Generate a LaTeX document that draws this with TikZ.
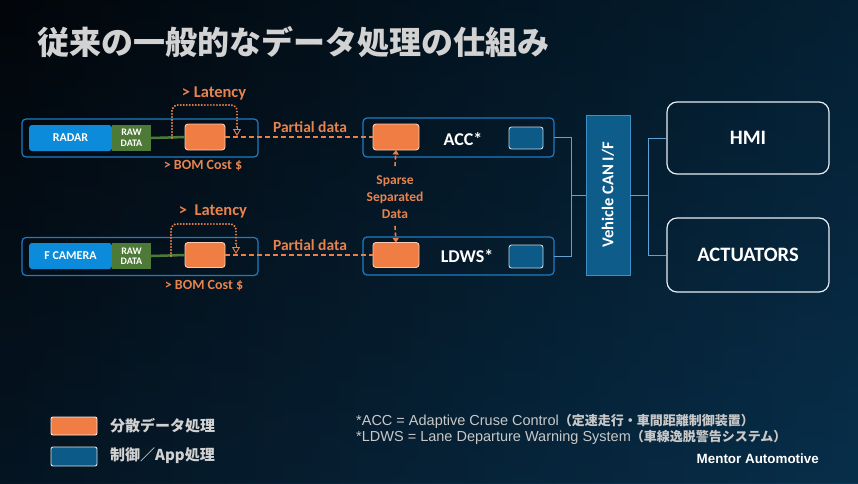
\documentclass[tikz,border=0pt]{standalone}
\usepackage{fontspec}
\setmainfont{Carlito}
\newfontfamily\jp{Noto Sans CJK JP}
\newfontfamily\arial{Liberation Sans}
\usetikzlibrary{arrows.meta}
\definecolor{bgl}{HTML}{050B13}
\definecolor{bgr}{HTML}{0A3A5C}
\definecolor{titlegray}{HTML}{D2D2D2}
\definecolor{orng}{HTML}{F07D44}
\definecolor{orngtxt}{HTML}{E8834E}
\definecolor{radarblue}{HTML}{0B8BD9}
\definecolor{rawgreen}{HTML}{4E7A37}
\definecolor{appblue}{HTML}{0B5A87}
\definecolor{grpblue}{HTML}{1E7CC4}
\definecolor{canfill}{HTML}{0E5C8A}
\definecolor{canedge}{HTML}{3D8FC4}
\definecolor{conn}{HTML}{5FA3D6}
\definecolor{boxedge}{HTML}{E8EEF4}
\definecolor{footgray}{HTML}{C8C8C8}
\tikzset{
  grp/.style={draw=grpblue, line width=1.2pt, rounded corners=4pt, inner sep=0pt, outer sep=0pt},
  orbox/.style={fill=orng, draw=orng!40!white, line width=0.9pt, rounded corners=3pt, inner sep=0pt, outer sep=0pt},
  appbox/.style={fill=appblue, draw=boxedge!85!appblue, line width=0.9pt, rounded corners=2.5pt, inner sep=0pt, outer sep=0pt},
  olabel/.style={text=orngtxt, font=\bfseries\fontsize{15.5}{17}\selectfont},
  latlabel/.style={text=orngtxt, font=\bfseries\fontsize{16.5}{18}\selectfont},
  bomlabel/.style={text=orngtxt, font=\bfseries\fontsize{14}{16}\selectfont},
  wlabel/.style={text=white, font=\bfseries\fontsize{18}{20}\selectfont},
  latpath/.style={draw=orngtxt, line width=2.2pt, line cap=round, dash pattern=on 0.01pt off 3pt, rounded corners=6pt},
  dashline/.style={draw=orng, line width=1.5pt, dash pattern=on 5pt off 3pt},
  conline/.style={draw=conn, line width=0.9pt},
  bigbox/.style={draw=boxedge, line width=1.2pt, rounded corners=10pt, minimum width=162pt, inner sep=0pt, text=white, font=\bfseries\fontsize{20.5}{22}\selectfont},
  sensor/.style={fill=radarblue, rounded corners=3pt, minimum width=83pt, minimum height=26pt, inner sep=0pt, text=white, font=\bfseries\fontsize{12}{14}\selectfont},
  rawbox/.style={fill=rawgreen, minimum width=39pt, minimum height=26pt, inner sep=0pt, text=white, align=center, font=\bfseries\fontsize{10}{10.5}\selectfont},
}
\begin{document}
\begin{tikzpicture}[x=1pt,y=-1pt]
\fill[left color=bgl, right color=bgr] (0,0) rectangle (858,483);
\fill[top color=black, bottom color=bgr, opacity=0.25] (0,0) rectangle (858,483);
\useasboundingbox (0,0) rectangle (858,483);
% faint arcs
\foreach \r in {120,140,...,300}{
  \draw[white, opacity=0.035, line width=0.5pt] (-60,480) ++(80:\r) arc[start angle=80, end angle=10, radius=\r];
}
% title
\node[anchor=west, text=titlegray, font=\jp\bfseries\fontsize{32}{34}\selectfont, inner sep=0pt] (title) at (37,42) {従来の一般的なデータ処理の仕組み};

% ---------- RADAR row ----------
\node[grp, minimum width=236pt, minimum height=38pt] (g1) at (140,138) {};
\node[sensor] (radar) at (70.5,138) {RADAR};
\node[rawbox] (raw1) at (131.5,138) {RAW\\DATA};
\node[orbox, minimum width=40pt, minimum height=26pt] (o1) at (205,137) {};
\draw[draw=rawgreen, line width=2.5pt] (raw1.east) -- (o1.west);
\coordinate (l1s) at (172,138);
\coordinate (l1e) at (237,136);
\draw[latpath] (l1s) -- (172,105) -- (237,105) -- (237,128);
\draw[draw=orngtxt, line width=0.9pt, -{Triangle[open, length=7pt, width=8pt]}] (237,127) -- (l1e);
\node[latlabel] (lat1) at (214,93) {> Latency};
\node[bomlabel] (bom1) at (203,166) {> BOM Cost \$};
\node[olabel] (pd1) at (310,127) {Partial data};

% ---------- CAMERA row ----------
\node[grp, minimum width=236pt, minimum height=38pt] (g2) at (140,256.5) {};
\node[sensor] (cam) at (70.5,256) {F CAMERA};
\node[rawbox] (raw2) at (131.5,256) {RAW\\DATA};
\node[orbox, minimum width=40pt, minimum height=25pt] (o2) at (205,255) {};
\draw[draw=rawgreen, line width=2.5pt] (raw2.east) -- (o2.west);
\coordinate (l2s) at (171,256);
\coordinate (l2e) at (236,254);
\draw[latpath] (l2s) -- (171,224) -- (236,224) -- (236,246);
\draw[draw=orngtxt, line width=0.9pt, -{Triangle[open, length=7pt, width=8pt]}] (236,245) -- (l2e);
\node[latlabel] (lat2) at (213,211) {>\ \ Latency};
\node[bomlabel] (bom2) at (204,286) {> BOM Cost \$};
\node[olabel] (pd2) at (310,245) {Partial data};

% ---------- ACC / LDWS ----------
\node[grp, minimum width=191pt, minimum height=39pt] (gacc) at (458.5,137.5) {};
\node[orbox, minimum width=46pt, minimum height=26pt] (oacc) at (396,137) {};
\node[wlabel] (acct) at (463,139) {ACC*};
\node[appbox, minimum width=34pt, minimum height=22pt] (aacc) at (526,138) {};

\node[grp, minimum width=191pt, minimum height=38pt] (gldws) at (458.5,256) {};
\node[orbox, minimum width=46pt, minimum height=25pt] (oldws) at (396,255) {};
\node[wlabel] (ldwst) at (467,256) {LDWS*};
\node[appbox, minimum width=34pt, minimum height=23pt] (aldws) at (526,256.5) {};

\draw[dashline] (o1.east) -- (oacc.west);
\draw[dashline] (o2.east) -- (oldws.west);

\node[text=orngtxt, align=center, font=\bfseries\fontsize{13.5}{17}\selectfont, inner sep=1pt] (sparse) at (395,197) {Sparse\\Separated\\Data};
\coordinate (sp1) at (395,166);
\coordinate (sp2) at (395,226);
\draw[dashline, line width=1.6pt, dash pattern=on 4pt off 2.5pt, -{Triangle[length=4.5pt, width=6pt]}] (sp1) -- (oacc.south);
\draw[dashline, line width=1.6pt, dash pattern=on 4pt off 2.5pt, -{Triangle[length=4.5pt, width=6pt]}] (sp2) -- (oldws.north);

% ---------- CAN I/F ----------
\node[fill=canfill, draw=canedge, line width=0.9pt, minimum width=44pt, minimum height=160pt, inner sep=0pt] (can) at (608,195) {};
\node[rotate=90, text=white, font=\bfseries\fontsize{16.5}{18}\selectfont] (cant) at (can.center) {Vehicle CAN I/F};
\coordinate (j1) at (571,195);
\draw[conline] (gacc.east) -- (571,137.5) -- (571,256) -- (gldws.east);
\draw[conline] (j1) -- (can.west);

\node[bigbox, minimum height=72pt] (hmi) at (748,138) {HMI};
\node[bigbox, minimum height=74pt] (act) at (748,255) {ACTUATORS};
\coordinate (j2) at (648,195);
\draw[conline] (can.east) -- (j2);
\draw[conline] (hmi.west) -- (648,138) -- (648,255) -- (act.west);

% ---------- legend ----------
\node[orbox, draw=white!85!orng, minimum width=46pt, minimum height=18pt, rounded corners=2pt] (lego) at (74,426) {};
\node[anchor=west, text=titlegray, font=\jp\bfseries\fontsize{15}{17}\selectfont, inner sep=0pt] (legot) at (110,426) {分散データ処理};
\node[appbox, draw=white!85!appblue, minimum width=46pt, minimum height=19pt, rounded corners=2pt] (legb) at (74,456.5) {};
\node[anchor=west, text=titlegray, font=\jp\bfseries\fontsize{15}{17}\selectfont, inner sep=0pt] (legbt) at (110,456) {制御／App処理};

% ---------- footnotes ----------
\node[anchor=west, text=footgray, font=\arial\fontsize{14.5}{16}\selectfont, inner sep=0pt] (f1) at (356,421) {*ACC = Adaptive Cruse Control{\jp\bfseries\fontsize{13}{15}\selectfont（定速走行・車間距離制御装置）}};
\node[anchor=west, text=footgray, font=\arial\fontsize{14.5}{16}\selectfont, inner sep=0pt] (f2) at (356,437) {*LDWS = Lane Departure Warning System{\jp\bfseries\fontsize{13}{15}\selectfont（車線逸脱警告システム）}};
\node[anchor=east, text=white, font=\arial\bfseries\fontsize{13.4}{15}\selectfont, inner sep=0pt] (mentor) at (819,459) {Mentor Automotive};
\end{tikzpicture}
\end{document}
